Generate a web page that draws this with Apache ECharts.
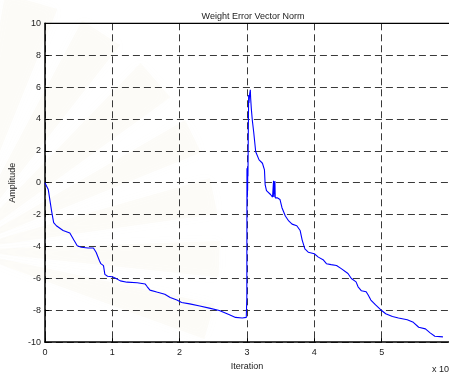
<!DOCTYPE html>
<html>
<head>
<meta charset="utf-8">
<script src="https://cdn.jsdelivr.net/npm/echarts@6/dist/echarts.min.js"></script>
<style>
  html, body { margin: 0; padding: 0; background: #ffffff; }
  #chart { width: 449px; height: 376px; }
</style>
</head>
<body>
<div id="chart"></div>
<script>
// Iteration (in units of 10^4) and weight error vector norm amplitude
var iterations = [
  0, 0.02, 0.05, 0.1, 0.13, 0.17, 0.27, 0.37, 0.39, 0.43, 0.48, 0.54, 0.64, 0.72, 0.76,
  0.81, 0.83, 0.87, 0.89, 0.93, 1.0, 1.05, 1.12, 1.22, 1.37, 1.49, 1.52, 1.56, 1.66, 1.78,
  1.86, 1.96, 2.03, 2.15, 2.3, 2.44, 2.59, 2.74, 2.83, 2.93, 2.99,
  2.995, 2.998, 3.0, 3.002, 3.004, 3.006, 3.008, 3.01, 3.012, 3.015, 3.02, 3.025, 3.03,
  3.04, 3.05, 3.055, 3.065, 3.08, 3.1, 3.13, 3.18, 3.23, 3.26, 3.27, 3.29, 3.35, 3.38,
  3.39, 3.395, 3.4, 3.405, 3.41, 3.415, 3.42, 3.45, 3.49, 3.52, 3.57, 3.62, 3.67, 3.74,
  3.79, 3.82, 3.86, 3.91, 4.0, 4.06, 4.13, 4.18, 4.25, 4.33, 4.4, 4.5, 4.55, 4.62, 4.65,
  4.7, 4.77, 4.8, 4.84, 4.91, 5.0, 5.06, 5.16, 5.25, 5.38, 5.47, 5.55, 5.65, 5.72, 5.79, 5.91
];
var amplitude = [
  0, -0.02, -0.43, -1.8, -2.5, -2.7, -3.0, -3.16, -3.2, -3.6, -3.95, -4.05, -4.1, -4.1, -4.36,
  -4.9, -5.08, -5.2, -5.75, -5.87, -5.9, -6.0, -6.16, -6.24, -6.28, -6.36, -6.53, -6.74, -6.86, -7.0,
  -7.2, -7.36, -7.52, -7.6, -7.73, -7.87, -8.02, -8.28, -8.45, -8.49, -8.45,
  -8.45, -7.2, 0.9, -1.3, 0.6, -0.9, 0.8, -0.5, 1.0, 0.4, 3.0, 5.5, 5.0,
  5.56, 5.83, 5.3, 4.63, 3.9, 3.18, 1.94, 1.43, 1.22, 0.8, -0.12, -0.5, -0.74, -0.9,
  -0.8, 0.12, -0.9, 0.05, -0.7, 0.1, -0.95, -0.95, -1.05, -1.57, -2.09, -2.4, -2.6, -2.7,
  -3.0, -3.6, -4.15, -4.36, -4.46, -4.67, -4.83, -5.08, -5.14, -5.19, -5.39, -5.7, -6.01, -6.22, -6.53,
  -6.78, -6.84, -7.05, -7.36, -7.67, -8.02, -8.22, -8.39, -8.49, -8.6, -8.76, -9.07, -9.17, -9.42, -9.63, -9.67
];
var xTicks = [0, 1, 2, 3, 4, 5, 6];
var yTicks = [-10, -8, -6, -4, -2, 0, 2, 4, 6, 8, 10];

var points = iterations.map(function (x, i) { return [x, amplitude[i]]; });

var font = '"Liberation Sans", Arial, sans-serif';
var dashed = { show: true, lineStyle: { color: '#3a3a3a', width: 1, type: [7, 4] } };

// very faint beige fan of rays behind the axes
var rays = [];
var cx = -40, cy = 250;
var angles = [[-80, -68], [-62, -52], [-46, -36], [-30, -22], [-16, -8], [-2, 6], [12, 20]];
angles.forEach(function (a) {
  var r = 260;
  var a0 = a[0] * Math.PI / 180, a1 = a[1] * Math.PI / 180;
  rays.push({
    type: 'polygon',
    z: -10,
    silent: true,
    shape: { points: [[cx, cy], [cx + r * Math.cos(a0), cy + r * Math.sin(a0)], [cx + r * Math.cos(a1), cy + r * Math.sin(a1)]] },
    style: { fill: 'rgba(238, 230, 205, 0.12)', shadowBlur: 12, shadowColor: 'rgba(238, 230, 205, 0.25)' }
  });
});

var chart = echarts.init(document.getElementById('chart'), null, { renderer: 'canvas' });
chart.setOption({
  animation: false,
  backgroundColor: '#ffffff',
  graphic: rays.concat([
    { type: 'text', left: 432, top: 365, style: { text: 'x 10', font: '9px ' + font, fill: '#222' } }
  ]),
  title: {
    text: 'Weight Error Vector Norm',
    left: 248, top: 7, textAlign: 'center',
    textStyle: { fontFamily: font, fontSize: 9, fontWeight: 'normal', color: '#222' }
  },
  grid: { left: 43.5, top: 23.3, width: 409.2, height: 322.4, show: false },
  xAxis: {
    type: 'value', min: xTicks[0], max: xTicks[xTicks.length - 1], interval: 1,
    name: 'Iteration', nameLocation: 'middle', nameGap: 16,
    nameTextStyle: { fontFamily: font, fontSize: 9, color: '#222' },
    axisLine: { show: true, onZero: false, lineStyle: { color: '#000', width: 1.5 } },
    axisTick: { show: true, inside: true, length: 4, lineStyle: { color: '#000' } },
    axisLabel: { fontFamily: font, fontSize: 9, color: '#222', margin: 6, showMaxLabel: false },
    splitLine: dashed
  },
  yAxis: {
    type: 'value', min: yTicks[0], max: yTicks[yTicks.length - 1], interval: 2,
    name: 'Amplitude', nameLocation: 'middle', nameGap: 18, nameRotate: 90,
    nameTextStyle: { fontFamily: font, fontSize: 9, color: '#222' },
    axisLine: { show: true, onZero: false, lineStyle: { color: '#000', width: 1.5 } },
    axisTick: { show: true, inside: true, length: 4, lineStyle: { color: '#000' } },
    axisLabel: { fontFamily: font, fontSize: 9, color: '#222', margin: 4 },
    splitLine: dashed
  },
  series: [{
    type: 'line',
    data: points,
    showSymbol: false,
    lineStyle: { color: '#0000ff', width: 1.1 },
    z: 5
  }, {
    // top border of the plot box
    type: 'line',
    data: [[xTicks[0], yTicks[yTicks.length - 1]], [xTicks[xTicks.length - 1], yTicks[yTicks.length - 1]]],
    showSymbol: false,
    lineStyle: { color: '#000', width: 1.5 },
    silent: true,
    z: 4
  }]
});
</script>
</body>
</html>
